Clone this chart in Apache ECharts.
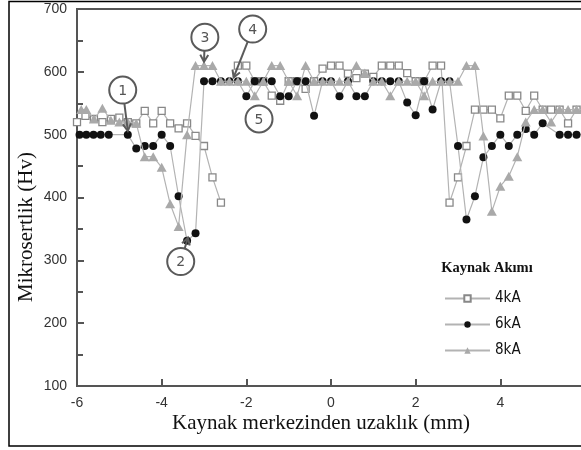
<!DOCTYPE html>
<html>
<head>
<meta charset="utf-8">
<script src="https://cdn.jsdelivr.net/npm/echarts@6/dist/echarts.min.js"></script>
<style>
html, body { margin: 0; padding: 0; background: #fff; }
#chart { width: 581px; height: 450px; }
</style>
</head>
<body>
<div id="chart"></div>
<script>
// Microhardness profiles across the weld, one series per welding current
const seriesNames = ['4kA', '6kA', '8kA'];

const dist4 = [-6.0, -5.8, -5.6, -5.4, -5.2, -5.0, -4.8, -4.6, -4.4, -4.2, -4.0, -3.8, -3.6, -3.4, -3.2, -3.0, -2.8, -2.6, -2.4,
  -2.2, -2.0, -1.8, -1.6, -1.4, -1.2, -1.0, -0.8, -0.6, -0.4, -0.2, 0.0, 0.2, 0.4, 0.6, 0.8, 1.0, 1.2, 1.4, 1.6, 1.8, 2.0,
  2.2, 2.4, 2.6, 2.8, 3.0, 3.2, 3.4, 3.6, 3.8, 4.0, 4.2, 4.4, 4.6, 4.8, 5.0, 5.2, 5.4, 5.6, 5.8, 6.0];
const hv4 = [520, 530, 525, 520, 525, 527, 520, 518, 538, 518, 538, 518, 510, 518, 498, 482, 432, 392, null,
  610, 610, 585, 585, 562, 554, 585, 585, 573, 585, 605, 610, 610, 597, 590, 597, 592, 610, 610, 610, 598, 585,
  585, 610, 610, 392, 432, 482, 540, 540, 540, 526, 562, 562, 538, 562, 540, 540, 540, 518, 540, 540];

const dist6 = [-5.94, -5.78, -5.61, -5.44, -5.25, -4.8, -4.6, -4.4, -4.2, -4.0, -3.8, -3.6, -3.4, -3.2, -3.0, -2.8, -2.6, -2.4,
  -2.2, -2.0, -1.8, -1.6, -1.4, -1.2, -1.0, -0.8, -0.6, -0.4, -0.2, 0.0, 0.2, 0.4, 0.6, 0.8, 1.0, 1.2, 1.4, 1.6, 1.8, 2.0,
  2.2, 2.4, 2.6, 2.8, 3.0, 3.2, 3.4, 3.6, 3.8, 4.0, 4.2, 4.4, 4.6, 4.8, 5.0, 5.4, 5.6, 5.8, 6.0];
const hv6 = [500, 500, 500, 500, 500, 500, 478, 482, 482, 500, 482, 402, 331, 343, 585, 585, 585, 585,
  585, 561, 585, 585, 585, 561, 561, 585, 585, 530, 585, 585, 561, 585, 561, 561, 585, 585, 585, 585, 551, 531,
  585, 540, 585, 585, 482, 365, 402, 464, 482, 500, 482, 500, 509, 500, 518, 500, 500, 500, 500];

const dist8 = [-5.9, -5.78, -5.6, -5.4, -5.2, -5.0, -4.8, -4.6, -4.4, -4.2, -4.0, -3.8, -3.6, -3.4, -3.2, -3.0, -2.8, -2.6, -2.4,
  -2.2, -2.0, -1.8, -1.6, -1.4, -1.2, -1.0, -0.8, -0.6, -0.4, -0.2, 0.0, 0.2, 0.4, 0.6, 0.8, 1.0, 1.2, 1.4, 1.6, 1.8, 2.0,
  2.2, 2.4, 2.6, 2.8, 3.0, 3.2, 3.4, 3.6, 3.8, 4.0, 4.2, 4.4, 4.6, 4.8, 5.0, 5.2, 5.4, 5.6, 5.8, 6.0];
const hv8 = [540, 540, 525, 542, 523, 520, 520, 518, 465, 465, 448, 390, 354, 500, 610, 610, 610, 585, 585,
  585, 585, 562, 585, 610, 610, 585, 562, 610, 585, 585, 585, 585, 585, 610, 598, 585, 585, 562, 585, 585, 585,
  562, 585, 585, 585, 585, 610, 610, 498, 378, 418, 434, 465, 520, 540, 540, 520, 540, 540, 540, 540];

// Axis ranges and ticks
const xRange = [-6, 6], xStep = 2;
const yRange = [100, 700], yStep = 100;

// Numbered callouts: circle centre and (optional) arrow target, both in data units
const callouts = [
  { text: '1', at: [-4.92, 571], tip: [-4.8, 506] },
  { text: '2', at: [-3.55, 298], tip: [-3.38, 336] },
  { text: '3', at: [-2.98, 655], tip: [-3.0, 616] },
  { text: '4', at: [-1.85, 668], tip: [-2.3, 591] },
  { text: '5', at: [-1.70, 525], tip: null }
];

const zip = (xs, ys) => xs.map((x, i) => [x, ys[i]]);

const lineStyle = { color: '#b3b3b3', width: 1.2 };
const axisColor = '#555';
const tickFont = { fontFamily: 'Liberation Sans', fontSize: 14, color: '#333' };

const chart = echarts.init(document.getElementById('chart'), null, { renderer: 'canvas' });

chart.setOption({
  animation: false,
  backgroundColor: '#fff',
  grid: {
    left: 77, top: 9, right: -4, bottom: 64,
    outerBoundsMode: 'none', containLabel: false,
    show: true, borderColor: axisColor, borderWidth: 2, backgroundColor: 'transparent'
  },
  xAxis: {
    type: 'value', min: xRange[0], max: xRange[1], interval: xStep,
    axisLine: { show: true, onZero: false, lineStyle: { color: axisColor, width: 2 } },
    axisTick: { show: true, inside: true, length: 7, lineStyle: { color: axisColor, width: 2 } },
    axisLabel: Object.assign({ margin: 10, showMinLabel: true, showMaxLabel: true }, tickFont),
    splitLine: { show: false }
  },
  yAxis: {
    type: 'value', min: yRange[0], max: yRange[1], interval: yStep,
    axisLine: { show: true, onZero: false, lineStyle: { color: axisColor, width: 2 } },
    axisTick: { show: true, inside: true, length: 7, lineStyle: { color: axisColor, width: 2 } },
    minorTick: { show: true, splitNumber: 2, length: 6, lineStyle: { color: axisColor, width: 2 } },
    axisLabel: Object.assign({ margin: 10, showMinLabel: true, showMaxLabel: true }, tickFont),
    splitLine: { show: false }
  },
  legend: {
    data: seriesNames,
    orient: 'vertical',
    left: 444, top: 291, padding: 0,
    itemWidth: 45, itemHeight: 8, itemGap: 11,
    textStyle: { fontFamily: "'DejaVu Sans Condensed', 'Liberation Sans Narrow', 'DejaVu Sans'", fontSize: 15, color: '#111' }
  },
  series: [
    {
      name: seriesNames[0], type: 'line', z: 2,
      data: zip(dist4, hv4),
      symbol: 'rect', symbolSize: 7, showAllSymbol: true,
      itemStyle: { color: '#fff', borderColor: '#888', borderWidth: 1.3 },
      lineStyle: lineStyle
    },
    {
      name: seriesNames[1], type: 'line', z: 3,
      data: zip(dist6, hv6),
      symbol: 'circle', symbolSize: 8, showAllSymbol: true,
      itemStyle: { color: '#111' },
      lineStyle: lineStyle
    },
    {
      name: seriesNames[2], type: 'line', z: 4,
      data: zip(dist8, hv8),
      symbol: 'triangle', symbolSize: [10, 9], showAllSymbol: true,
      itemStyle: { color: '#a9a9a9' },
      lineStyle: lineStyle
    }
  ]
});

// Titles, frame, legend heading and callouts
const g = [];
g.push({
  type: 'rect', silent: true, z: 100,
  shape: { x: 9, y: 1.5, width: 640, height: 444.5 },
  style: { fill: 'none', stroke: '#000', lineWidth: 1.5 }
});
g.push({
  type: 'text', x: 26, y: 227, rotation: Math.PI / 2, z: 100,
  style: { text: 'Mikrosertlik (Hv)', fontFamily: 'Liberation Serif', fontSize: 21, fill: '#111', align: 'center', verticalAlign: 'middle' }
});
g.push({
  type: 'text', x: 321, y: 423, z: 100,
  style: { text: 'Kaynak merkezinden uzaklık (mm)', fontFamily: 'Liberation Serif', fontSize: 21, fill: '#111', align: 'center', verticalAlign: 'middle' }
});
g.push({
  type: 'text', x: 487, y: 268, z: 100,
  style: { text: 'Kaynak Akımı', fontFamily: 'Liberation Serif', fontWeight: 'bold', fontSize: 14.5, fill: '#111', align: 'center', verticalAlign: 'middle' }
});

const R = 13.5;
const ink = '#5a5a5a';
callouts.forEach(c => {
  const [cx, cy] = chart.convertToPixel({ gridIndex: 0 }, c.at);
  g.push({
    type: 'circle', z: 90, shape: { cx: cx, cy: cy, r: R },
    style: { fill: 'rgba(255,255,255,0)', stroke: ink, lineWidth: 2 }
  });
  g.push({
    type: 'text', x: cx, y: cy + 1, z: 91,
    style: { text: c.text, fontFamily: 'DejaVu Sans', fontSize: 14, fill: '#555', align: 'center', verticalAlign: 'middle' }
  });
  if (c.tip) {
    const [tx, ty] = chart.convertToPixel({ gridIndex: 0 }, c.tip);
    const dx = tx - cx, dy = ty - cy, len = Math.hypot(dx, dy);
    const ux = dx / len, uy = dy / len;
    const sx = cx + ux * R, sy = cy + uy * R;
    g.push({
      type: 'line', z: 90, shape: { x1: sx, y1: sy, x2: tx, y2: ty },
      style: { stroke: ink, lineWidth: 2 }
    });
    const h = 7, w = 4;
    g.push({
      type: 'polyline', z: 90,
      shape: { points: [
        [tx - ux * h - uy * w, ty - uy * h + ux * w],
        [tx, ty],
        [tx - ux * h + uy * w, ty - uy * h - ux * w]
      ] },
      style: { stroke: ink, lineWidth: 2, fill: 'none' }
    });
  }
});

chart.setOption({ graphic: g });
</script>
</body>
</html>
